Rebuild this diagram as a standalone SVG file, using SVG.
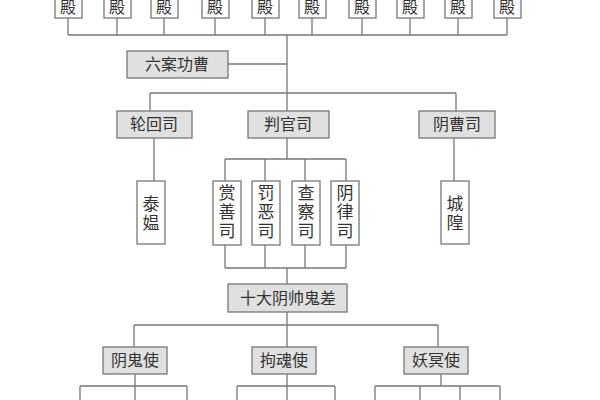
<svg xmlns="http://www.w3.org/2000/svg" width="600" height="400" viewBox="0 0 600 400">
<style>
.c{stroke:#777;stroke-width:1.3;fill:none}
.g{fill:#e0e0e0;stroke:#777;stroke-width:1.3}
.w{fill:#fff;stroke:#777;stroke-width:1.3}
text{font-family:"Noto Sans CJK SC","Noto Sans",sans-serif;fill:#333;text-anchor:middle}
.t{font-size:16px}
.v{font-size:17px}
</style>
<rect width="600" height="400" fill="#fff"/>
<g id="connectors" class="c">
<path d="M68,18V35M117,18V35M164,18V35M215,18V35M265,18V35M312,18V35M362,18V35M410,18V35M458,18V35M507,18V35M68,35H507"/>
<path d="M287,35V111M228,64H287M150,93H456M150,93V111M456,93V111"/>
<path d="M154,138V181M454,138V181M287,138V159M225,159H346M225,159V181M265,159V181M305,159V181M346,159V181"/>
<path d="M225,245V268M265,245V268M305,245V268M346,245V268M225,268H346M287,268V284"/>
<path d="M287,312V347M134,325H438M134,325V347M438,325V347"/>
<path d="M135,374V400M80,386H187M80,386V400M187,386V400"/>
<path d="M287,374V400M237,386H335M237,386V400M335,386V400"/>
<path d="M441,374V386M375,386H500M375,386V400M420,386V400M460,386V400M500,386V400"/>
</g>
<g id="dian">
<rect class="w" x="55" y="-5" width="27" height="23"/><text class="t" x="68" y="13">殿</text>
<rect class="w" x="104" y="-5" width="27" height="23"/><text class="t" x="117" y="13">殿</text>
<rect class="w" x="151" y="-5" width="27" height="23"/><text class="t" x="164" y="13">殿</text>
<rect class="w" x="202" y="-5" width="27" height="23"/><text class="t" x="215" y="13">殿</text>
<rect class="w" x="252" y="-5" width="27" height="23"/><text class="t" x="265" y="13">殿</text>
<rect class="w" x="299" y="-5" width="27" height="23"/><text class="t" x="312" y="13">殿</text>
<rect class="w" x="349" y="-5" width="27" height="23"/><text class="t" x="362" y="13">殿</text>
<rect class="w" x="397" y="-5" width="27" height="23"/><text class="t" x="410" y="13">殿</text>
<rect class="w" x="445" y="-5" width="27" height="23"/><text class="t" x="458" y="13">殿</text>
<rect class="w" x="494" y="-5" width="27" height="23"/><text class="t" x="507" y="13">殿</text>
</g>
<g id="liuan"><rect class="g" x="127" y="51" width="101" height="27"/><text class="t" x="177" y="70">六案功曹</text></g>
<g id="lunhui"><rect class="g" x="117" y="111" width="75" height="27"/><text class="t" x="154" y="130">轮回司</text></g>
<g id="panguan"><rect class="g" x="248" y="111" width="81" height="27"/><text class="t" x="288" y="130">判官司</text></g>
<g id="yincao"><rect class="g" x="419" y="111" width="76" height="27"/><text class="t" x="457" y="130">阴曹司</text></g>
<g id="taiwen"><rect class="w" x="137" y="181" width="28" height="63"/><text class="v" x="151" y="210">泰</text><text class="v" x="151" y="229">媪</text></g>
<g id="shangshan"><rect class="w" x="213" y="181" width="28" height="64"/><text class="v" x="227" y="199">赏</text><text class="v" x="227" y="218">善</text><text class="v" x="227" y="237">司</text></g>
<g id="fae"><rect class="w" x="252" y="181" width="28" height="64"/><text class="v" x="266" y="199">罚</text><text class="v" x="266" y="218">恶</text><text class="v" x="266" y="237">司</text></g>
<g id="chacha"><rect class="w" x="292" y="181" width="28" height="64"/><text class="v" x="306" y="199">查</text><text class="v" x="306" y="218">察</text><text class="v" x="306" y="237">司</text></g>
<g id="yinlv"><rect class="w" x="331" y="181" width="28" height="64"/><text class="v" x="345" y="199">阴</text><text class="v" x="345" y="218">律</text><text class="v" x="345" y="237">司</text></g>
<g id="chenghuang"><rect class="w" x="441" y="181" width="28" height="63"/><text class="v" x="455" y="210">城</text><text class="v" x="455" y="229">隍</text></g>
<g id="shida"><rect class="g" x="228" y="284" width="119" height="28"/><text class="t" x="288" y="304">十大阴帅鬼差</text></g>
<g id="yingui"><rect class="g" x="103" y="347" width="64" height="27"/><text class="t" x="135" y="366">阴鬼使</text></g>
<g id="juhun"><rect class="g" x="252" y="347" width="64" height="27"/><text class="t" x="284" y="366">拘魂使</text></g>
<g id="yaoming"><rect class="g" x="404" y="347" width="64" height="27"/><text class="t" x="436" y="366">妖冥使</text></g>
</svg>
